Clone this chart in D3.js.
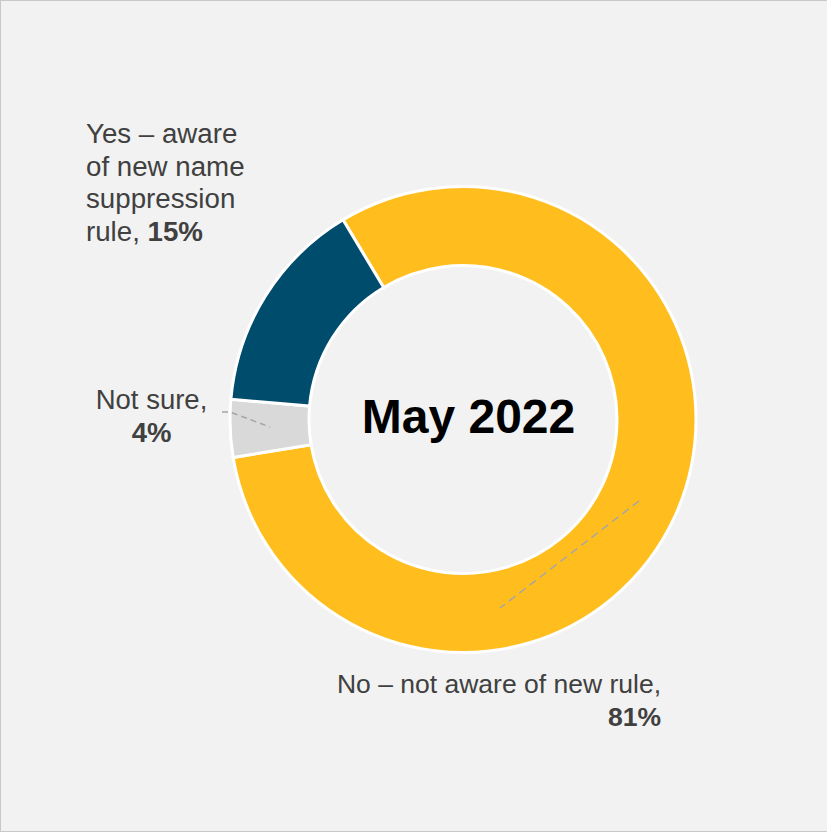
<!DOCTYPE html>
<html>
<head>
<meta charset="utf-8">
<script src="https://cdn.jsdelivr.net/npm/d3@7"></script>
<style>
  html, body { margin: 0; padding: 0; background: #fff; }
  svg { display: block; }
  text { font-family: "Liberation Sans", Arial, sans-serif; }
</style>
</head>
<body>
<svg id="chart" width="827" height="836"></svg>
<script>
// Data
const categories = ["No – not aware of new rule", "Not sure", "Yes – aware of new name suppression rule"];
const values = [81, 4, 15];
const colors = ["#FFBE1E", "#D9D9D9", "#004C6D"];
const centerTitle = "May 2022";

const svg = d3.select("#chart");

// background + border
svg.append("rect").attr("x", 0.5).attr("y", 0.5).attr("width", 828).attr("height", 831)
  .attr("fill", "#F2F2F2").attr("stroke", "#C8C8C8").attr("stroke-width", 1);

const cx = 463, cy = 419.5;
const outerR = 233, innerR = 154;
const start = -31 * Math.PI / 180;

const pie = d3.pie().sort(null).value(d => d).startAngle(start).endAngle(start + 2 * Math.PI);
const arc = d3.arc().innerRadius(innerR).outerRadius(outerR);

const g = svg.append("g").attr("transform", `translate(${cx},${cy})`);
g.selectAll("path").data(pie(values)).join("path")
  .attr("d", arc)
  .attr("fill", (d, i) => colors[i])
  .attr("stroke", "#FFFFFF")
  .attr("stroke-width", 3)
  .attr("stroke-linejoin", "miter");

// center title
svg.append("text").attr("x", 468.5).attr("y", 433)
  .attr("text-anchor", "middle")
  .attr("font-size", 48).attr("font-weight", "bold").attr("fill", "#000")
  .text(centerTitle);

const txtColor = "#404040";

// Leader lines
const leader = d3.line();
svg.append("path")
  .attr("d", leader([[222, 412], [230, 412], [270, 427]]))
  .attr("fill", "none").attr("stroke", "#A6A6A6").attr("stroke-width", 1.5)
  .attr("stroke-dasharray", "6,4");
svg.append("path")
  .attr("d", leader([[639, 501], [500, 608]]))
  .attr("fill", "none").attr("stroke", "#A6A6A6").attr("stroke-width", 1.5)
  .attr("stroke-dasharray", "8,5");

// Labels
function label(lines, x, y, anchor, fs) {
  const t = svg.append("text").attr("x", x).attr("y", y)
    .attr("text-anchor", anchor).attr("font-size", fs).attr("fill", txtColor);
  lines.forEach((ln, i) => {
    const ts = t.append("tspan").attr("x", x).attr("dy", i === 0 ? 0 : 32.5);
    ln.forEach(part => {
      ts.append("tspan").attr("font-weight", part.b ? "bold" : "normal").text(part.t);
    });
  });
}

label([[{t: "Yes – aware"}], [{t: "of new name"}], [{t: "suppression"}], [{t: "rule, "}, {t: values[2] + "%", b: true}]],
  86, 143, "start", 27.7);
label([[{t: "Not sure,"}], [{t: values[1] + "%", b: true}]], 151.5, 409, "middle", 27.5);
label([[{t: "No – not aware of new rule,"}], [{t: values[0] + "%", b: true}]], 661, 693, "end", 26.5);
</script>
</body>
</html>
